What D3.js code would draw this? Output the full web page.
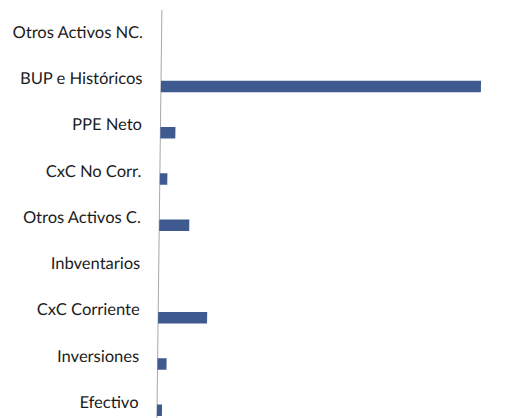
<!DOCTYPE html>
<html><head><meta charset="utf-8">
<script src="https://cdn.jsdelivr.net/npm/d3@7"></script>
<style>html,body{margin:0;padding:0;background:#fff;}svg{display:block;}</style>
</head><body>
<svg id="chart" width="505" height="418"></svg>
<script>
const categories = ["Otros Activos NC.","BUP e Históricos","PPE Neto","CxC No Corr.","Otros Activos C.","Inbventarios","CxC Corriente","Inversiones","Efectivo"];
const values = [0, 64.0, 3.0, 1.5, 6.0, 0, 9.8, 1.8, 1.0];

const svg = d3.select("#chart");
const g = svg.append("g").attr("transform","skewX(-0.7)");

const x0 = 162;
const x = d3.scaleLinear().domain([0, 100]).range([x0, x0 + 500]);
const y = d3.scalePoint().domain(categories).range([32, 402]);

g.append("line")
  .attr("x1", x(0)).attr("x2", x(0))
  .attr("y1", 10).attr("y2", 430)
  .attr("stroke", "#a8a8a8").attr("stroke-width", 1);

g.selectAll("rect.bar").data(categories).enter().append("rect")
  .attr("class","bar")
  .attr("x", x(0))
  .attr("y", c => y(c) + 2.5)
  .attr("width", (c,i) => x(values[i]) - x(0))
  .attr("height", 11.5)
  .attr("fill", "#3f5a90");

g.selectAll("text.lab").data(categories).enter().append("text")
  .attr("class","lab")
  .attr("x", 143.5)
  .attr("y", c => y(c))
  .attr("dy", "0.36em")
  .attr("text-anchor","end")
  .attr("font-family","Lato, 'Open Sans', sans-serif")
  .attr("font-size", 16.5)
  .attr("fill","#1c1c1c")
  .text(c => c);
</script>
</body></html>
